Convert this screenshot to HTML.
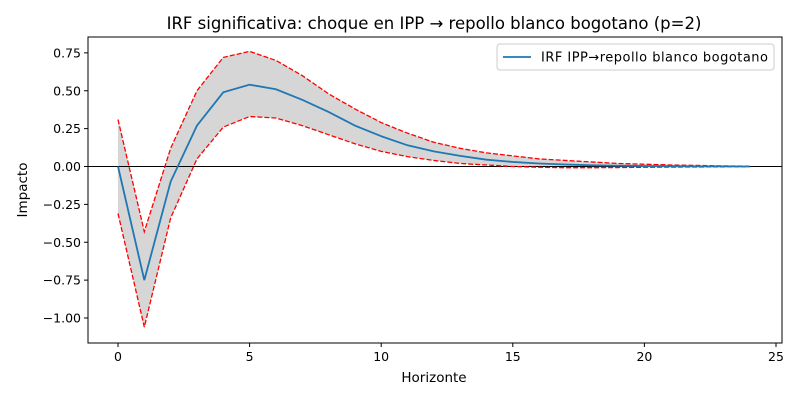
<!DOCTYPE html>
<html><head><meta charset="utf-8"><style>
body{margin:0;background:#fff;}
svg text{font-family:"DejaVu Sans","Liberation Sans",sans-serif;}
</style></head><body>
<svg id="chart" width="800" height="400" xmlns="http://www.w3.org/2000/svg">
<rect width="800" height="400" fill="#fff"/>
<text x="434" y="29" font-size="16.5" text-anchor="middle">IRF significativa: choque en IPP → repollo blanco bogotano (p=2)</text>
<g id="plot"></g>
<text x="434" y="382" font-size="13.5" text-anchor="middle">Horizonte</text>
<text transform="translate(27,190) rotate(-90)" font-size="13.5" text-anchor="middle">Impacto</text>
</svg>
<script>
const horizons=[0,1,2,3,4,5,6,7,8,9,10,11,12,13,14,15,16,17,18,19,20,21,22,23,24];
const irf=[0,-0.75,-0.1,0.27,0.49,0.54,0.51,0.44,0.36,0.27,0.2,0.14,0.1,0.07,0.045,0.03,0.02,0.013,0.008,0.005,0.003,0.002,0.001,0.001,0];
const upper=[0.31,-0.43,0.12,0.5,0.72,0.76,0.7,0.6,0.48,0.38,0.29,0.22,0.16,0.12,0.09,0.07,0.05,0.04,0.03,0.02,0.015,0.01,0.007,0.004,0.002];
const lower=[-0.31,-1.06,-0.34,0.05,0.26,0.33,0.32,0.27,0.21,0.15,0.1,0.065,0.04,0.02,0.01,0,-0.005,-0.008,-0.008,-0.007,-0.005,-0.004,-0.003,-0.002,-0.001];
const xTicks=[0,5,10,15,20,25];
const yTicks=[0.75,0.5,0.25,0,-0.25,-0.5,-0.75,-1];
const yTickLabels=["0.75","0.50","0.25","0.00","\u22120.25","\u22120.50","\u22120.75","\u22121.00"];

const L=88,R=782,T=37,B=343;
const sx=v=>118+v*(776-118)/25;
const sy=v=>166.5-v*151.5;
const NS="http://www.w3.org/2000/svg";
const g=document.getElementById('plot');
function mk(tag,attrs){const e=document.createElementNS(NS,tag);for(const k in attrs)e.setAttribute(k,attrs[k]);g.appendChild(e);return e;}

let band=horizons.map((h,i)=>sx(h)+','+sy(upper[i])).join(' ')+' '+horizons.slice().reverse().map((h,j)=>{const i=horizons.length-1-j;return sx(h)+','+sy(lower[i]);}).join(' ');
const poly=mk('polygon',{points:band,fill:'#d6d6d6',stroke:'none'});



const zl=mk('line',{x1:L,x2:R,y1:sy(0),y2:sy(0),stroke:'#000','stroke-width':1});



const pts=a=>horizons.map((h,i)=>sx(h)+','+sy(a[i])).join(' ');
const up=mk('polyline',{points:pts(upper),fill:'none',stroke:'#ff0000','stroke-width':1.3,'stroke-dasharray':'5,2'});


const lo=mk('polyline',{points:pts(lower),fill:'none',stroke:'#ff0000','stroke-width':1.3,'stroke-dasharray':'5,2'});


const il=mk('polyline',{points:pts(irf),fill:'none',stroke:'#1f77b4','stroke-width':1.8});



const frame=mk('rect',{x:L,y:T,width:R-L,height:B-T,fill:'none',stroke:'#000','stroke-width':1});



xTicks.forEach(t=>{
  const tk=mk('line',{x1:sx(t),x2:sx(t),y1:B,y2:B+4,stroke:'#000'});
  
  
  const tx=mk('text',{x:sx(t),y:B+18,'font-size':12.5,'text-anchor':'middle'});
  tx.textContent=t;
  
  
});
yTicks.forEach((t,i)=>{
  const tk=mk('line',{x1:L-4,x2:L,y1:sy(t),y2:sy(t),stroke:'#000'});
  
  
  const tx=mk('text',{x:L-7,y:sy(t)+4.5,'font-size':12.5,'text-anchor':'end'});
  tx.textContent=yTickLabels[i];
  
  
});

const lg=mk('rect',{x:497,y:44,width:277,height:26,fill:'#fff',stroke:'#ccc',rx:3});


const ll=mk('line',{x1:503,x2:531,y1:57,y2:57,stroke:'#1f77b4','stroke-width':1.8});


const lt=mk('text',{x:541,y:61.5,'font-size':13,textLength:227});
lt.textContent='IRF IPP→repollo blanco bogotano';


</script>
</body></html>
